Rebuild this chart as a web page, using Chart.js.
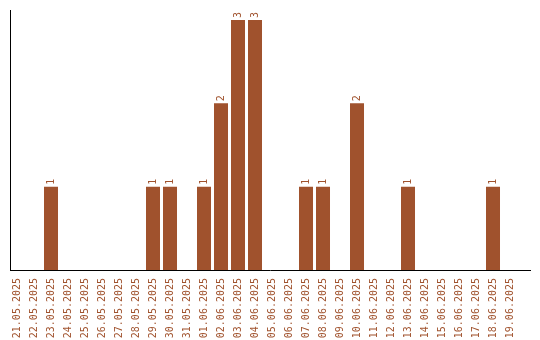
<!DOCTYPE html>
<html>
<head>
<meta charset="utf-8">
<script src="https://cdn.jsdelivr.net/npm/chart.js@4"></script>
<style>
  body { margin: 0; background: #fff; }
  canvas { display: block; }
</style>
</head>
<body>
<canvas id="grafica" width="540" height="340"></canvas>
<script>
const fechas = [
  '21.05.2025', '22.05.2025', '23.05.2025', '24.05.2025', '25.05.2025',
  '26.05.2025', '27.05.2025', '28.05.2025', '29.05.2025', '30.05.2025',
  '31.05.2025', '01.06.2025', '02.06.2025', '03.06.2025', '04.06.2025',
  '05.06.2025', '06.06.2025', '07.06.2025', '08.06.2025', '09.06.2025',
  '10.06.2025', '11.06.2025', '12.06.2025', '13.06.2025', '14.06.2025',
  '15.06.2025', '16.06.2025', '17.06.2025', '18.06.2025', '19.06.2025'
];
const cantidades = [0, 0, 1, 0, 0, 0, 0, 0, 1, 1, 0, 1, 2, 3, 3, 0, 0, 1, 1, 0, 2, 0, 0, 1, 0, 0, 0, 0, 1, 0];

const COLOR = '#a0522d';
const FUENTE = { family: 'DejaVu Sans Mono', size: 10 };

// etiquetas giradas encima de cada barra
const etiquetasBarras = {
  id: 'etiquetasBarras',
  afterDatasetsDraw(chart) {
    const ctx = chart.ctx;
    const meta = chart.getDatasetMeta(0);
    meta.data.forEach((barra, i) => {
      const v = cantidades[i];
      if (!v) return;
      ctx.save();
      ctx.translate(barra.x, barra.y - 2);
      ctx.rotate(-Math.PI / 2);
      ctx.font = `${FUENTE.size}px ${FUENTE.family}`;
      ctx.fillStyle = COLOR;
      ctx.textAlign = 'left';
      ctx.textBaseline = 'middle';
      ctx.fillText(String(v), 0, 0);
      ctx.restore();
    });
  }
};

new Chart(document.getElementById('grafica'), {
  type: 'bar',
  data: {
    datasets: [{
      data: cantidades.map((v, i) => ({ x: i, y: v })),
      backgroundColor: COLOR,
      borderWidth: 0,
      inflateAmount: 0,
      barThickness: 14
    }]
  },
  options: {
    responsive: false,
    animation: false,
    layout: { padding: { top: 10, right: 10, left: 0, bottom: 0 } },
    plugins: { legend: { display: false }, tooltip: { enabled: false } },
    scales: {
      x: {
        type: 'linear',
        offset: false,
        min: -0.412,
        max: 30.176,
        grid: { display: false },
        border: { display: true, color: '#000', width: 1 },
        afterBuildTicks: (scale) => {
          scale.ticks = fechas.map((_, i) => ({ value: i }));
        },
        afterFit: (scale) => { scale.height = 70; },
        ticks: {
          autoSkip: false,
          minRotation: 90,
          maxRotation: 90,
          padding: 0,
          color: COLOR,
          font: FUENTE,
          callback: (value) => fechas[value]
        }
      },
      y: {
        min: 0,
        max: 3.12,
        grid: { display: false },
        border: { display: true, color: '#000', width: 1 },
        ticks: { display: false },
        afterFit: (scale) => { scale.width = 10; }
      }
    }
  },
  plugins: [etiquetasBarras]
});
</script>
</body>
</html>
